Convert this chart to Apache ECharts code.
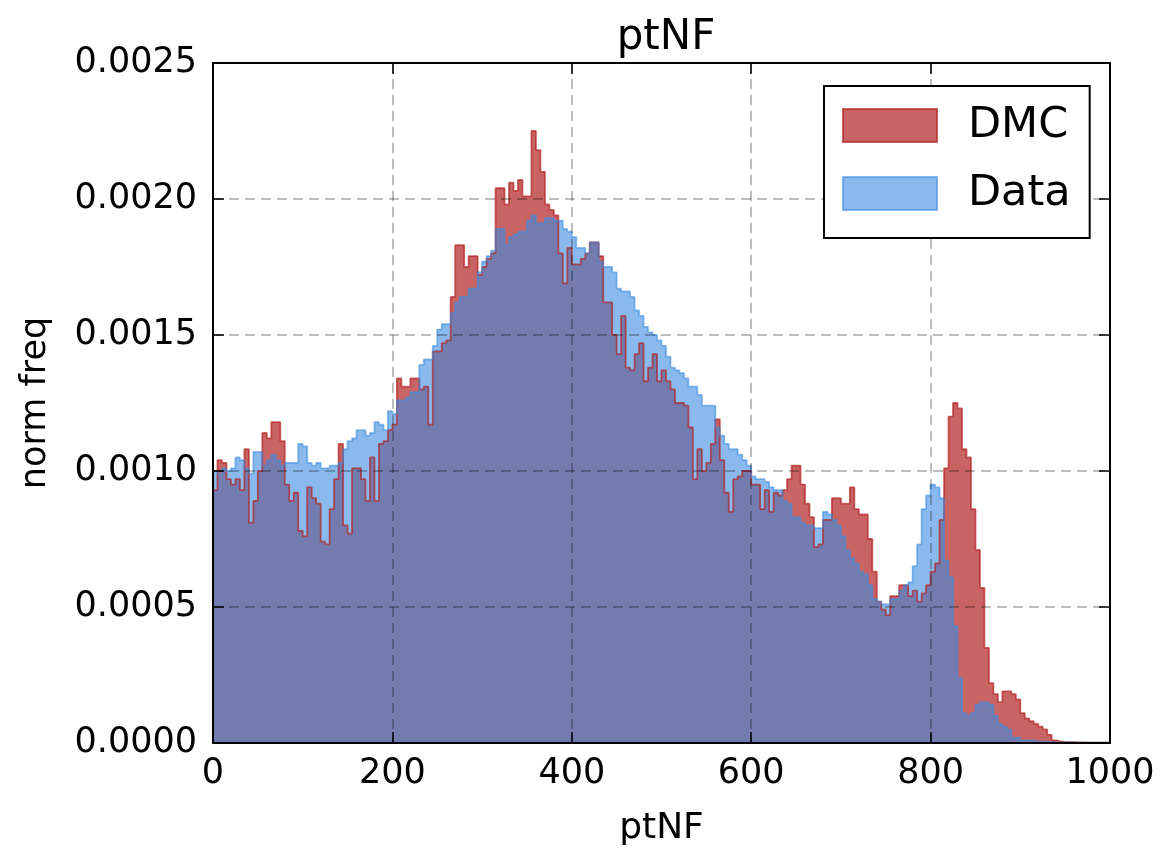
<!DOCTYPE html>
<html>
<head>
<meta charset="utf-8">
<title>ptNF</title>
<script src="https://cdn.jsdelivr.net/npm/echarts@6/dist/echarts.min.js"></script>
<style>
  html, body { margin: 0; padding: 0; background: #fff; }
  #chart { width: 1162px; height: 854px; }
</style>
</head>
<body>
<div id="chart"></div>
<script>
// Histogram binning: 200 bins of width 5 over [0, 1000]
const binStart = 0;
const binWidth = 5;
const binCount = 200;

// Normalised frequency per bin, DMC sample
const dmcFreq = [
  0.00093, 0.00104, 0.00103, 0.00097, 0.00095, 0.00097, 0.00093, 0.00108, 0.00081, 0.00089,
  0.00100, 0.00114, 0.00112, 0.00118, 0.00118, 0.00111, 0.00095, 0.00089, 0.00092, 0.00078,
  0.00076, 0.00094, 0.00090, 0.00088, 0.00074, 0.00073, 0.00086, 0.00097, 0.00110, 0.00080,
  0.00077, 0.00101, 0.00101, 0.00097, 0.00089, 0.00105, 0.00089, 0.00110, 0.00111, 0.00115,
  0.00117, 0.00134, 0.00131, 0.00131, 0.00134, 0.00134, 0.00130, 0.00131, 0.00117, 0.00144,
  0.00144, 0.00147, 0.00148, 0.00164, 0.00183, 0.00183, 0.00175, 0.00179, 0.00179, 0.00172,
  0.00175, 0.00178, 0.00180, 0.00204, 0.00204, 0.00198, 0.00206, 0.00203, 0.00207, 0.00201,
  0.00201, 0.00225, 0.00218, 0.00210, 0.00198, 0.00196, 0.00194, 0.00180, 0.00169, 0.00182,
  0.00176, 0.00176, 0.00178, 0.00180, 0.00184, 0.00184, 0.00179, 0.00162, 0.00162, 0.00150,
  0.00143, 0.00157, 0.00138, 0.00137, 0.00143, 0.00147, 0.00133, 0.00138, 0.00143, 0.00133,
  0.00137, 0.00133, 0.00130, 0.00125, 0.00125, 0.00124, 0.00116, 0.00097, 0.00108, 0.00100,
  0.00103, 0.00110, 0.00119, 0.00104, 0.00092, 0.00085, 0.00097, 0.00098, 0.00100, 0.00100,
  0.00095, 0.00095, 0.00086, 0.00093, 0.00085, 0.00092, 0.00091, 0.00093, 0.00097, 0.00102,
  0.00102, 0.00095, 0.00088, 0.00083, 0.00072, 0.00073, 0.00082, 0.00082, 0.00090, 0.00090,
  0.00088, 0.00088, 0.00094, 0.00086, 0.00084, 0.00084, 0.00075, 0.00063, 0.00052, 0.00049,
  0.00047, 0.00054, 0.00054, 0.00058, 0.00058, 0.00054, 0.00056, 0.00052, 0.00055, 0.00058,
  0.00063, 0.00066, 0.00082, 0.00101, 0.00120, 0.00125, 0.00123, 0.00108, 0.00105, 0.00086,
  0.00071, 0.00057, 0.00035, 0.00022, 0.00018, 0.00015, 0.00019, 0.00019, 0.00018, 0.00016,
  0.00011, 0.00009, 0.00008, 0.00007, 0.00006, 0.00005, 0.00003, 0.00001, 0.000006, 0.000004,
  0.000003, 0.000003, 0.000002, 0.000002, 0.000001, 0.000001, 0.000001, 0.000001, 0.000001, 0.000001
];

// Normalised frequency per bin, Data sample
const dataFreq = [
  0.00100, 0.00099, 0.00101, 0.00100, 0.00101, 0.00105, 0.00104, 0.00101, 0.00099, 0.00107,
  0.00107, 0.00102, 0.00104, 0.00106, 0.00104, 0.00102, 0.00103, 0.00103, 0.00103, 0.00110,
  0.00109, 0.00103, 0.00102, 0.00103, 0.00101, 0.00101, 0.00102, 0.00102, 0.00103, 0.00108,
  0.00111, 0.00112, 0.00115, 0.00115, 0.00113, 0.00114, 0.00118, 0.00117, 0.00115, 0.00122,
  0.00121, 0.00126, 0.00126, 0.00127, 0.00129, 0.00129, 0.00139, 0.00141, 0.00141, 0.00146,
  0.00152, 0.00154, 0.00154, 0.00158, 0.00162, 0.00164, 0.00164, 0.00167, 0.00167, 0.00173,
  0.00177, 0.00179, 0.00181, 0.00189, 0.00189, 0.00183, 0.00186, 0.00187, 0.00188, 0.00188,
  0.00192, 0.00194, 0.00191, 0.00191, 0.00193, 0.00193, 0.00192, 0.00192, 0.00189, 0.00188,
  0.00186, 0.00182, 0.00182, 0.00180, 0.00184, 0.00184, 0.00177, 0.00175, 0.00175, 0.00173,
  0.00167, 0.00166, 0.00166, 0.00164, 0.00159, 0.00157, 0.00153, 0.00151, 0.00150, 0.00148,
  0.00146, 0.00142, 0.00138, 0.00137, 0.00136, 0.00134, 0.00131, 0.00131, 0.00128, 0.00124,
  0.00124, 0.00124, 0.00116, 0.00113, 0.00110, 0.00108, 0.00108, 0.00106, 0.00104, 0.00102,
  0.00098, 0.00097, 0.00097, 0.00096, 0.00094, 0.00093, 0.00093, 0.00089, 0.00088, 0.00083,
  0.00083, 0.00081, 0.00080, 0.00080, 0.00079, 0.00079, 0.00085, 0.00084, 0.00082, 0.00080,
  0.00076, 0.00071, 0.00068, 0.00066, 0.00063, 0.00062, 0.00058, 0.00053, 0.00052, 0.00051,
  0.00051, 0.00053, 0.00053, 0.00056, 0.00058, 0.00059, 0.00065, 0.00073, 0.00086, 0.00091,
  0.00095, 0.00094, 0.00090, 0.00067, 0.00061, 0.00043, 0.00024, 0.00011, 0.00010, 0.00011,
  0.00014, 0.00015, 0.00015, 0.00014, 0.00010, 0.00007, 0.00006, 0.00005, 0.00002, 0.00002,
  0.00001, 0.00001, 0.00001, 0.000005, 0.000005, 0.000005, 0.000003, 0.000003, 0.000002, 0.000002,
  0.000002, 0.000001, 0.000001, 0.000001, 0.000001, 0.000001, 0.000001, 0.000001, 0.000001, 0.000001
];

// Axis ranges and tick spacing
const xTicks = { min: 0, max: 1000, interval: 200 };
const yTicks = { min: 0, max: 0.0025, interval: 0.0005 };

const FONT = 'DejaVu Sans';

// Step outline: each bin value holds from its left edge to the next edge
function stepPoints(values) {
  const pts = [];
  for (let i = 0; i < binCount; i++) {
    pts.push([binStart + i * binWidth, values[i]]);
  }
  pts.push([binStart + binCount * binWidth, values[binCount - 1]]);
  return pts;
}

const dmcColor = 'rgb(178,34,34)';
const dataColor = 'rgb(60,140,225)';

function histSeries(name, values, color, alpha) {
  return {
    name: name,
    type: 'line',
    step: 'end',
    data: stepPoints(values),
    showSymbol: false,
    symbol: 'none',
    silent: true,
    lineStyle: { color: color, width: 1.8, opacity: alpha },
    areaStyle: { color: color, opacity: alpha },
    itemStyle: { color: color, opacity: alpha },
    z: 2
  };
}

const axisLineStyle = { color: '#000', width: 2 };
const tickStyle = { color: '#000', width: 1.5 };
const gridLine = { show: true, lineStyle: { color: 'rgba(0,0,0,0.26)', width: 2, type: [10, 6] } };

const chart = echarts.init(document.getElementById('chart'), null, { renderer: 'canvas' });

chart.setOption({
  animation: false,
  backgroundColor: '#fff',
  textStyle: { fontFamily: FONT },
  title: {
    text: 'ptNF',
    left: 661,
    textAlign: 'center',
    top: 12,
    textStyle: { fontFamily: FONT, fontSize: 42, fontWeight: 'normal', color: '#000' }
  },
  grid: { left: 213, right: 52, top: 63, bottom: 111, containLabel: false },
  legend: {
    orient: 'vertical',
    left: 824,
    top: 86,
    z: 10,
    selectedMode: false,
    backgroundColor: '#fff',
    borderColor: '#000',
    borderWidth: 2,
    borderRadius: 0,
    padding: [18, 19, 23, 18],
    itemWidth: 94,
    itemHeight: 33,
    itemGap: 25,
    textStyle: { fontFamily: FONT, fontSize: 43, color: '#000', lineHeight: 33, padding: [0, 0, 0, 26] },
    data: [
      { name: 'DMC', icon: 'rect', itemStyle: { color: 'rgba(178,34,34,0.7)', borderColor: 'rgba(178,34,34,0.7)', borderWidth: 2, opacity: 1 } },
      { name: 'Data', icon: 'rect', itemStyle: { color: 'rgba(60,140,225,0.6)', borderColor: 'rgba(60,140,225,0.6)', borderWidth: 2, opacity: 1 } }
    ]
  },
  xAxis: [
    {
      type: 'value', position: 'bottom', z: 5,
      min: xTicks.min, max: xTicks.max, interval: xTicks.interval,
      name: 'ptNF', nameLocation: 'middle', nameGap: 68,
      nameTextStyle: { fontFamily: FONT, fontSize: 36, color: '#000' },
      axisLine: { show: true, onZero: false, lineStyle: axisLineStyle },
      axisTick: { show: true, inside: true, length: 11, lineStyle: tickStyle },
      axisLabel: {
        fontFamily: FONT, fontSize: 35, color: '#000', margin: 13,
        formatter: function (v) { return String(v); }
      },
      splitLine: gridLine
    },
    {
      type: 'value', position: 'top', z: 5,
      min: xTicks.min, max: xTicks.max, interval: xTicks.interval,
      axisLine: { show: true, onZero: false, lineStyle: axisLineStyle },
      axisTick: { show: true, inside: true, length: 11, lineStyle: tickStyle },
      axisLabel: { show: false },
      splitLine: { show: false }
    }
  ],
  yAxis: [
    {
      type: 'value', position: 'left', z: 5,
      min: yTicks.min, max: yTicks.max, interval: yTicks.interval,
      name: 'norm freq', nameLocation: 'middle', nameGap: 160, nameRotate: 90,
      nameTextStyle: { fontFamily: FONT, fontSize: 35, color: '#000' },
      axisLine: { show: true, onZero: false, lineStyle: axisLineStyle },
      axisTick: { show: true, inside: true, length: 11, lineStyle: tickStyle },
      axisLabel: {
        fontFamily: FONT, fontSize: 35, color: '#000', margin: 16,
        formatter: function (v) { return v.toFixed(4); }
      },
      splitLine: gridLine
    },
    {
      type: 'value', position: 'right', z: 5,
      min: yTicks.min, max: yTicks.max, interval: yTicks.interval,
      axisLine: { show: true, onZero: false, lineStyle: axisLineStyle },
      axisTick: { show: true, inside: true, length: 11, lineStyle: tickStyle },
      axisLabel: { show: false },
      splitLine: { show: false }
    }
  ],
  series: [
    histSeries('DMC', dmcFreq, dmcColor, 0.7),
    histSeries('Data', dataFreq, dataColor, 0.6)
  ]
});
</script>
</body>
</html>
